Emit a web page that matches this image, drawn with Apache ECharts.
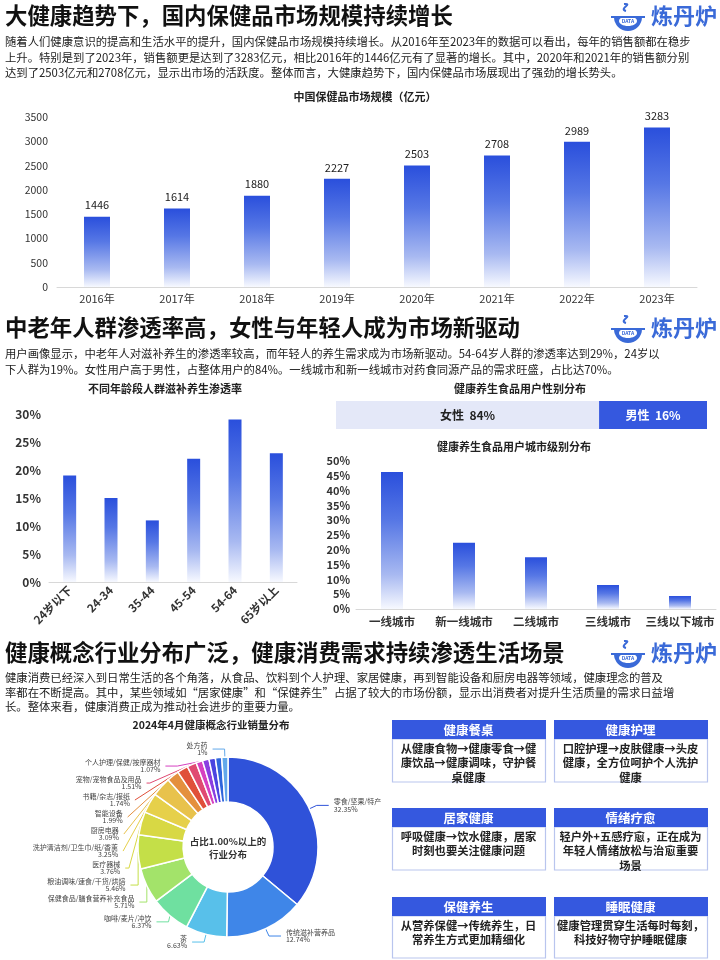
<!DOCTYPE html>
<html><head><meta charset="utf-8">
<script src="https://cdn.jsdelivr.net/npm/echarts@6/dist/echarts.min.js"></script>
<style>html,body{margin:0;padding:0;background:#fff}#c{width:720px;height:960px}</style>
</head><body><div id="c"></div>
<script>
const FONT = '"Noto Sans CJK SC","Noto Sans",sans-serif';

// ---------- data ----------
const marketYears = ['2016年','2017年','2018年','2019年','2020年','2021年','2022年','2023年'];
const marketValues = [1446,1614,1880,2227,2503,2708,2989,3283];

const ageGroups = ['24岁以下','24-34','35-44','45-54','54-64','65岁以上'];
const ageRates = [19,15,11,22,29,23];

const genderNames = ['女性','男性'];
const genderShares = [84,16];

const cityTiers = ['一线城市','新一线城市','二线城市','三线城市','三线以下城市'];
const cityShares = [46.3,22.4,17.5,8.1,4.4];

const industryNames = ['零食/坚果/特产','传统滋补营养品','茶','咖啡/麦片/冲饮','保健食品/膳食营养补充食品','粮油调味/速食/干货/烘焙','医疗器械','洗护清洁剂/卫生巾/纸/香薰','厨房电器','智能设备','书籍/杂志/报纸','宠物/宠物食品及用品','个人护理/保健/按摩器材','','','','处方药'];
const industryShares = [32.35,12.74,6.63,6.37,5.71,5.46,3.76,3.25,3.09,1.99,1.74,1.51,1.07,1.05,1.03,1.02,1];
const industryColors = ['#2f52d9','#3f86e8','#58c0ea','#6fe0a0','#a3e36a','#c4df48','#d8d844','#e6d04a','#e8c24c','#e4903e','#e0503a','#e04a72','#d640c0','#8a3ee0','#4a44e0','#2f66dc','#62a8ea'];

const paragraph1 = [
 '随着人们健康意识的提高和生活水平的提升，国内保健品市场规模持续增长。从2016年至2023年的数据可以看出，每年的销售额都在稳步',
 '上升。特别是到了2023年，销售额更是达到了3283亿元，相比2016年的1446亿元有了显著的增长。其中，2020年和2021年的销售额分别',
 '达到了2503亿元和2708亿元，显示出市场的活跃度。整体而言，大健康趋势下，国内保健品市场展现出了强劲的增长势头。'];
const paragraph2 = [
 '用户画像显示，中老年人对滋补养生的渗透率较高，而年轻人的养生需求成为市场新驱动。54-64岁人群的渗透率达到29%，24岁以',
 '下人群为19%。女性用户高于男性，占整体用户的84%。一线城市和新一线城市对药食同源产品的需求旺盛，占比达70%。'];
const paragraph3 = [
 '健康消费已经深入到日常生活的各个角落，从食品、饮料到个人护理、家居健康，再到智能设备和厨房电器等领域，健康理念的普及',
 '率都在不断提高。其中，某些领域如“居家健康”和“保健养生”占据了较大的市场份额，显示出消费者对提升生活质量的需求日益增',
 '长。整体来看，健康消费正成为推动社会进步的重要力量。'];

const boxTitles = ['健康餐桌','健康护理','居家健康','情绪疗愈','保健养生','睡眠健康'];
const boxTexts = [
 ['从健康食物→健康零食→健','康饮品→健康调味，守护餐','桌健康'],
 ['口腔护理→皮肤健康→头皮','健康，全方位呵护个人洗护','健康'],
 ['呼吸健康→饮水健康，居家','时刻也要关注健康问题'],
 ['轻户外+五感疗愈，正在成为','年轻人情绪放松与治愈重要','场景'],
 ['从营养保健→传统养生，日','常养生方式更加精细化'],
 ['健康管理贯穿生活每时每刻，','科技好物守护睡眠健康']];

// ---------- helpers ----------
const BLUE = '#3558df';
function txt(x,y,text,size,weight,color,align){
  return {type:'text', x:x, y:y, silent:true, z:10,
    style:{text:text, fontSize:size, fontWeight:weight||'normal', fontFamily:FONT, fill:color||'#222',
      align:align||'left', textAlign:align||'left', verticalAlign:'middle', textVerticalAlign:'middle'}};
}
function logo(cy){
  const els = [];
  els.push({type:'bezierCurve', silent:true, shape:{x1:624,y1:cy-11,cpx1:634,cpy1:cy-12,x2:626,y2:cy-4,cpx2:618,cpy2:cy-6}, style:{stroke:'#3a6ad8',lineWidth:2,fill:null}});
  els.push({type:'sector', silent:true, shape:{cx:628,cy:cy+2,r:14,r0:0,startAngle:0,endAngle:Math.PI}, style:{fill:'#3a6ad8'}});
  els.push({type:'ellipse', silent:true, shape:{cx:628,cy:cy+6,rx:9,ry:5}, style:{fill:'#fff'}});
  els.push({type:'line', silent:true, shape:{x1:611,y1:cy+2,x2:645,y2:cy+2}, style:{stroke:'#3a6ad8',lineWidth:2}});
  els.push(txt(628, cy+6, 'DATA', 5, 'bold', '#3a6ad8', 'center'));
  els.push(txt(651, cy+1, '炼丹炉', 22, 'bold', '#3a6ad8', 'left'));
  return els;
}
const grad = () => new echarts.graphic.LinearGradient(0,0,0,1,[
  {offset:0,color:'#2a4fdc'},{offset:0.35,color:'#5677e5'},{offset:0.75,color:'#a8b9f1'},{offset:1,color:'#f7f9ff'}]);

const PARA = 11.35, TITLE = 22.4;
const graphics = [];
// section 1
graphics.push(txt(5, 15, '大健康趋势下，国内保健品市场规模持续增长', TITLE, 'bold', '#111'));
graphics.push(...logo(15));
paragraph1.forEach((l,i)=>graphics.push(txt(5, 42+i*15.3, l, PARA, 'normal', '#222')));
graphics.push(txt(365, 97, '中国保健品市场规模（亿元）', 11, 'bold', '#222', 'center'));
// section 2
graphics.push(txt(5, 327, '中老年人群渗透率高，女性与年轻人成为市场新驱动', TITLE, 'bold', '#111'));
graphics.push(...logo(327));
paragraph2.forEach((l,i)=>graphics.push(txt(5, 354+i*15.3, l, PARA, 'normal', '#222')));
graphics.push(txt(165, 389, '不同年龄段人群滋补养生渗透率', 11, 'bold', '#222', 'center'));
graphics.push(txt(520, 389, '健康养生食品用户性别分布', 11, 'bold', '#222', 'center'));
graphics.push(txt(514, 447, '健康养生食品用户城市级别分布', 11, 'bold', '#222', 'center'));
// section 3
graphics.push(txt(5, 652, '健康概念行业分布广泛，健康消费需求持续渗透生活场景', TITLE, 'bold', '#111'));
graphics.push(...logo(652));
paragraph3.forEach((l,i)=>graphics.push(txt(5, 678+i*14.5, l, PARA, 'normal', '#222')));
graphics.push(txt(211, 725, '2024年4月健康概念行业销量分布', 10.5, 'bold', '#222', 'center'));
graphics.push(txt(228, 841, '占比1.00%以上的', 9.5, 'bold', '#333', 'center'));
graphics.push(txt(228, 854, '行业分布', 9.5, 'bold', '#333', 'center'));
// boxes
const colX = [392, 554], rowY = [720, 808, 897], bw = 153, hh = 19, bodyH = [43, 43, 42];
boxTitles.forEach((t,i)=>{
  const c = i%2, r = Math.floor(i/2);
  const x = colX[c], y = rowY[r];
  graphics.push({type:'rect', silent:true, shape:{x:x+0.5,y:y+hh,width:bw,height:bodyH[r]}, style:{fill:'#fff',stroke:'#b9c5ee',lineWidth:1.2}});
  graphics.push({type:'rect', silent:true, shape:{x:x,y:y,width:bw+1,height:hh}, style:{fill:BLUE}});
  graphics.push(txt(x+bw/2, y+hh/2+0.5, t, 12.5, 'bold', '#fff', 'center'));
  boxTexts[i].forEach((l,j)=>graphics.push(txt(x+bw/2, y+hh+9.5+j*14.5, l, 11.3, 'bold', '#222', 'center')));
});

const chart = echarts.init(document.getElementById('c'));
const axisLbl = (size, weight) => ({fontSize:size, fontWeight:weight, color:'#333', fontFamily:FONT});

chart.setOption({
  backgroundColor:'#fff',
  animation:false,
  textStyle:{fontFamily:FONT},
  grid:[
    {left:57, top:117, width:640, height:170},
    {left:49, top:414, width:248, height:168},
    {left:336, top:401, width:371, height:28},
    {left:356, top:461, width:360, height:148}
  ],
  xAxis:[
    {type:'category', gridIndex:0, data:marketYears, axisLine:{lineStyle:{color:'#d8d8d8'}}, axisTick:{show:false}, axisLabel:Object.assign(axisLbl(11,'normal'),{margin:6})},
    {type:'category', gridIndex:1, data:ageGroups, axisLine:{lineStyle:{color:'#d8d8d8'}}, axisTick:{show:false}, axisLabel:Object.assign(axisLbl(11.5,'bold'),{rotate:45, interval:0, margin:6})},
    {type:'value', gridIndex:2, min:45, max:100, show:false},
    {type:'category', gridIndex:3, data:cityTiers, axisLine:{lineStyle:{color:'#d8d8d8'}}, axisTick:{show:false}, axisLabel:Object.assign(axisLbl(11.5,'bold'),{interval:0, margin:7})}
  ],
  yAxis:[
    {type:'value', gridIndex:0, min:0, max:3500, interval:500, splitLine:{show:false}, axisLine:{show:false}, axisTick:{show:false}, axisLabel:Object.assign(axisLbl(10.5,'normal'),{margin:9, formatter:v=>String(v)})},
    {type:'value', gridIndex:1, min:0, max:30, interval:5, splitLine:{show:false}, axisLine:{show:false}, axisTick:{show:false}, axisLabel:Object.assign(axisLbl(12,'bold'),{formatter:'{value}%', margin:8})},
    {type:'category', gridIndex:2, data:['性别'], show:false},
    {type:'value', gridIndex:3, min:0, max:50, interval:5, splitLine:{show:false}, axisLine:{show:false}, axisTick:{show:false}, axisLabel:Object.assign(axisLbl(11,'bold'),{formatter:'{value}%', margin:6})}
  ],
  series:[
    {type:'bar', xAxisIndex:0, yAxisIndex:0, data:marketValues, barWidth:26, itemStyle:{color:grad()},
      label:{show:true, position:'top', distance:6, fontSize:11, color:'#222'}},
    {type:'bar', xAxisIndex:1, yAxisIndex:1, data:ageRates, barWidth:13, itemStyle:{color:grad()}},
    ...genderNames.map((n,i)=>({type:'bar', name:n, stack:'g', xAxisIndex:2, yAxisIndex:2, data:[genderShares[i]], barWidth:28,
      itemStyle:{color: i===0 ? '#e4e8f8' : BLUE},
      label:{show:true, position:'inside', formatter:p=>p.seriesName+'  '+p.value+'%', fontSize:12, fontWeight:'bold', color: i===0 ? '#222' : '#fff'},
      labelLayout:function(p){const r=p.rect; const l=Math.max(r.x,336); return {x:(l+r.x+r.width)/2, y:r.y+r.height/2, align:'center', verticalAlign:'middle'};}
    })),
    {type:'bar', xAxisIndex:3, yAxisIndex:3, data:cityShares, barWidth:22, itemStyle:{color:grad()}},
    {type:'pie', center:[228,847], radius:[45,90], startAngle:90, clockwise:true,
      itemStyle:{borderColor:'#fff', borderWidth:1.5},
      label:{fontSize:7, lineHeight:7.5, color:'#444', formatter:p=>p.name+'\n'+p.value+'%'},
      labelLine:{length:8, length2:12, lineStyle:{width:1}},
      emphasis:{disabled:true},
      data: industryNames.map((n,i)=>{
        const d = {name:n, value:industryShares[i], itemStyle:{color:industryColors[i]}};
        if(!n){ d.label={show:false}; d.labelLine={show:false}; }
        return d;
      })
    }
  ],
  graphic: graphics
});
</script>
</body></html>
